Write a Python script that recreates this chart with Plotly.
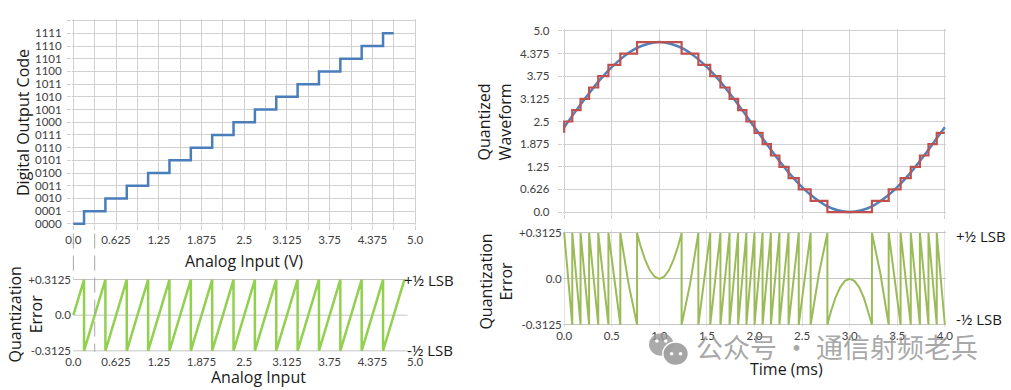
import plotly.graph_objects as go

W, H = 1011, 390

# ---------------- DATA ----------------
# Top-left: ADC transfer function (input volts at each code transition, output code)
adc_input_v = [0.0, 0.15625, 0.46875, 0.78125, 1.09375, 1.40625, 1.71875, 2.03125,
               2.34375, 2.65625, 2.96875, 3.28125, 3.59375, 3.90625, 4.21875, 4.53125, 4.6875]
adc_code = [0, 1, 2, 3, 4, 5, 6, 7, 8, 9, 10, 11, 12, 13, 14, 15, 15]
code_tick_vals = [0, 1, 2, 3, 4, 5, 6, 7, 8, 9, 10, 11, 12, 13, 14, 15, 16]
code_tick_text = ["0000", "0001", "0010", "0011", "0100", "0101", "0110", "0111",
                  "1000", "1001", "1010", "1011", "1100", "1101", "1110", "1111", ""]
volt_tick_vals = [0.0, 0.625, 1.25, 1.875, 2.5, 3.125, 3.75, 4.375, 5.0]
volt_tick_text = ["0.0", "0.625", "1.25", "1.875", "2.5", "3.125", "3.75", "4.375", "5.0"]

# Bottom-left: quantization error vs analog input (sawtooth vertices)
saw_input_v = [0.0,
               0.15625, 0.15625, 0.46875, 0.46875, 0.78125, 0.78125, 1.09375, 1.09375,
               1.40625, 1.40625, 1.71875, 1.71875, 2.03125, 2.03125, 2.34375, 2.34375,
               2.65625, 2.65625, 2.96875, 2.96875, 3.28125, 3.28125, 3.59375, 3.59375,
               3.90625, 3.90625, 4.21875, 4.21875, 4.53125, 4.53125,
               4.84375]
saw_error = [0.0,
             0.3125, -0.3125, 0.3125, -0.3125, 0.3125, -0.3125, 0.3125, -0.3125,
             0.3125, -0.3125, 0.3125, -0.3125, 0.3125, -0.3125, 0.3125, -0.3125,
             0.3125, -0.3125, 0.3125, -0.3125, 0.3125, -0.3125, 0.3125, -0.3125,
             0.3125, -0.3125, 0.3125, -0.3125, 0.3125, -0.3125,
             0.3125]
err_tick_vals = [-0.3125, 0.0, 0.3125]
err_tick_text = ["-0.3125", "0.0", "+0.3125"]

# Top-right: analog sine (sampled read-offs) and its quantized staircase
sine_time = [0.0, 0.125, 0.25, 0.375, 0.5, 0.625, 0.75, 0.875, 1.0, 1.125, 1.25, 1.375,
             1.5, 1.625, 1.75, 1.875, 2.0, 2.125, 2.25, 2.375, 2.5, 2.625, 2.75, 2.875,
             3.0, 3.125, 3.25, 3.375, 3.5, 3.625, 3.75, 3.875, 4.0]
sine_value = [2.34, 2.80, 3.24, 3.65, 4.00, 4.29, 4.51, 4.64, 4.69, 4.64, 4.51, 4.29,
              4.00, 3.65, 3.24, 2.80, 2.34, 1.89, 1.45, 1.04, 0.69, 0.40, 0.18, 0.05,
              0.00, 0.05, 0.18, 0.40, 0.69, 1.04, 1.45, 1.89, 2.34]
quant_time = [0.0, 0.0, 0.085, 0.172, 0.262, 0.358, 0.465, 0.590, 0.766, 1.234, 1.410,
              1.535, 1.642, 1.738, 1.828, 1.915, 2.0, 2.085, 2.172, 2.262, 2.358, 2.465,
              2.590, 2.766, 3.234, 3.410, 3.535, 3.642, 3.738, 3.828, 3.915, 4.0]
quant_level = [2.1875, 2.5, 2.8125, 3.125, 3.4375, 3.75, 4.0625, 4.375, 4.6875, 4.375,
               4.0625, 3.75, 3.4375, 3.125, 2.8125, 2.5, 2.1875, 1.875, 1.5625, 1.25,
               0.9375, 0.625, 0.3125, 0.0, 0.3125, 0.625, 0.9375, 1.25, 1.5625, 1.875,
               2.1875, 2.1875]
wave_tick_vals = [0.0, 0.625, 1.25, 1.875, 2.5, 3.125, 3.75, 4.375, 5.0]
wave_tick_text = ["0.0", "0.626", "1.25", "1.875", "2.5", "3.125", "3.75", "4.375", "5.0"]
time_tick_vals = [0.0, 0.5, 1.0, 1.5, 2.0, 2.5, 3.0, 3.5, 4.0]
time_tick_text = ["0.0", "0.5", "1.0", "1.5", "2.0", "2.5", "3.0", "3.5", "4.0"]

# Bottom-right: quantization error vs time (vertices)
err_time = [0.0,
            0.085, 0.085, 0.172, 0.172, 0.262, 0.262, 0.358, 0.358,
            0.465, 0.465, 0.590, 0.590, 0.678, 0.766, 0.766,
            0.80, 0.85, 0.90, 0.95, 1.00, 1.05, 1.10, 1.15, 1.20,
            1.234, 1.234, 1.322, 1.410, 1.410, 1.535, 1.535, 1.642, 1.642,
            1.738, 1.738, 1.828, 1.828, 1.915, 1.915, 2.0, 2.0,
            2.085, 2.085, 2.172, 2.172, 2.262, 2.262, 2.358, 2.358,
            2.465, 2.465, 2.590, 2.590, 2.678, 2.766, 2.766,
            2.80, 2.85, 2.90, 2.95, 3.00, 3.05, 3.10, 3.15, 3.20,
            3.234, 3.234, 3.322, 3.410, 3.410, 3.535, 3.535, 3.642, 3.642,
            3.738, 3.738, 3.828, 3.828, 3.915, 3.915,
            4.0]
err_value = [0.3125,
             -0.3125, 0.3125, -0.3125, 0.3125, -0.3125, 0.3125, -0.3125, 0.3125,
             -0.3125, 0.3125, -0.3125, 0.3125, -0.038, -0.3125, 0.3125,
             0.229, 0.130, 0.058, 0.014, 0.0, 0.014, 0.058, 0.130, 0.229,
             0.3125, -0.3125, -0.038, 0.3125, -0.3125, 0.3125, -0.3125, 0.3125, -0.3125,
             0.3125, -0.3125, 0.3125, -0.3125, 0.3125, -0.3125, 0.3125, -0.3125,
             0.3125, -0.3125, 0.3125, -0.3125, 0.3125, -0.3125, 0.3125, -0.3125,
             0.3125, -0.3125, 0.3125, -0.3125, 0.038, 0.3125, -0.3125,
             -0.229, -0.130, -0.058, -0.014, 0.0, -0.014, -0.058, -0.130, -0.229,
             -0.3125, 0.3125, 0.038, -0.3125, 0.3125, -0.3125, 0.3125, -0.3125, 0.3125,
             -0.3125, 0.3125, -0.3125, 0.3125, -0.3125, 0.3125,
             -0.3125]

# ---------------- STYLE ----------------
TICK_FONT = dict(family="Lato", size=11.5, color="#404040")
TITLE_FONT = dict(family="Open Sans", size=16, color="#1a1a1a")
GRID = "#d0d0d0"


def px(x):
    return x / W


def py(y):
    return 1 - y / H


fig = go.Figure()

fig.add_trace(go.Scatter(x=adc_input_v, y=adc_code, mode="lines", line_shape="hv",
                         line=dict(color="#4A7EBB", width=2.5), xaxis="x", yaxis="y"))
fig.add_trace(go.Scatter(x=saw_input_v, y=saw_error, mode="lines",
                         line=dict(color="#92D050", width=2.5), xaxis="x2", yaxis="y2"))
fig.add_trace(go.Scatter(x=sine_time, y=sine_value, mode="lines", line_shape="spline",
                         line=dict(color="#4F81BD", width=2.5, smoothing=1.0),
                         xaxis="x3", yaxis="y3"))
fig.add_trace(go.Scatter(x=quant_time, y=quant_level, mode="lines", line_shape="hv",
                         line=dict(color="#C0504D", width=2.2), xaxis="x3", yaxis="y3"))
fig.add_trace(go.Scatter(x=err_time, y=err_value, mode="lines",
                         line=dict(color="#9BBB59", width=2), xaxis="x4", yaxis="y4"))

# Domains from pixel geometry
tl_x = [px(65.91), px(415.19)]
tl_y = [py(225.56), py(14.44)]
bl_y = [py(357.21), py(277.79)]
r_x = [px(563.55), px(952.45)]
tr_y = [py(214.23), py(24.27)]
br_y = [py(329.93), py(230.67)]

common = dict(showline=False, zeroline=False, tickfont=TICK_FONT, fixedrange=True)

fig.update_layout(
    width=W, height=H, autosize=False,
    margin=dict(l=0, r=0, t=0, b=0),
    paper_bgcolor="white", plot_bgcolor="white",
    showlegend=False, hovermode=False,
    xaxis=dict(domain=tl_x, anchor="y", range=[-0.02, 5.02],
               tickvals=volt_tick_vals, ticktext=volt_tick_text,
               showgrid=True, gridcolor=GRID, gridwidth=1,
               ticks="outside", ticklen=4, tickcolor=GRID,
               minor=dict(tick0=0, dtick=0.3125, showgrid=True, gridcolor=GRID,
                          ticks="outside", ticklen=4, tickcolor=GRID),
               **common),
    yaxis=dict(domain=tl_y, anchor="x", range=[-0.12, 16.12],
               tickvals=code_tick_vals, ticktext=code_tick_text,
               showgrid=True, gridcolor=GRID, gridwidth=1,
               ticks="outside", ticklen=4, tickcolor=GRID, ticklabelstandoff=3,
               **common),
    xaxis2=dict(domain=tl_x, anchor="y2", range=[-0.02, 5.02],
                tickvals=volt_tick_vals, ticktext=volt_tick_text,
                showgrid=False, **common),
    yaxis2=dict(domain=bl_y, anchor="x2", range=[-0.34, 0.34],
                tickvals=err_tick_vals, ticktext=err_tick_text,
                showgrid=False, **common),
    xaxis3=dict(domain=r_x, anchor="y3", range=[-0.015, 4.015],
                tickvals=time_tick_vals, showticklabels=False,
                showgrid=True, gridcolor=GRID, gridwidth=1,
                ticks="outside", ticklen=4, tickcolor=GRID, **common),
    yaxis3=dict(domain=tr_y, anchor="x3", range=[-0.06, 5.06],
                tickvals=wave_tick_vals, ticktext=wave_tick_text,
                showgrid=True, gridcolor=GRID, gridwidth=1,
                ticks="outside", ticklen=4, tickcolor=GRID, ticklabelstandoff=6,
                **common),
    xaxis4=dict(domain=r_x, anchor="y4", range=[-0.015, 4.015],
                tickvals=time_tick_vals, ticktext=time_tick_text,
                showgrid=True, gridcolor="#e3e3e3", gridwidth=1, **common),
    yaxis4=dict(domain=br_y, anchor="x4", range=[-0.33, 0.33],
                tickvals=err_tick_vals, ticktext=err_tick_text,
                showgrid=True, gridcolor="#c4c4c4", gridwidth=1, **common),
)

shapes = []
# Bottom-left horizontal grid lines (shorter than the axis span)
for v in err_tick_vals:
    shapes.append(dict(type="line", xref="x2", yref="y2", x0=0, x1=4.89, y0=v, y1=v,
                       line=dict(color="#c4c4c4", width=1), layer="below"))
# Dashed guide lines at 0 and 1 LSB
shapes.append(dict(type="line", xref="x", yref="paper", x0=0.0, x1=0.0,
                   y0=py(234), y1=py(280), line=dict(color="#a6a6a6", width=1, dash="15px,7px")))
shapes.append(dict(type="line", xref="x", yref="paper", x0=0.3125, x1=0.3125,
                   y0=py(234), y1=py(355), line=dict(color="#a6a6a6", width=1, dash="15px,7px")))
# Watermark icon (two chat bubbles)
wm = "rgba(150,150,150,0.8)"
shapes.append(dict(type="circle", xref="paper", yref="paper",
                   x0=px(651), x1=px(676), y0=py(359), y1=py(336),
                   fillcolor=wm, line=dict(width=0)))
shapes.append(dict(type="circle", xref="paper", yref="paper",
                   x0=px(665), x1=px(691), y0=py(369), y1=py(345),
                   fillcolor="rgba(160,160,160,0.95)", line=dict(color="white", width=1.5)))
for cx, cy in [(659, 344), (668, 344), (674, 357), (683, 357)]:
    shapes.append(dict(type="circle", xref="paper", yref="paper",
                       x0=px(cx - 1.8), x1=px(cx + 1.8), y0=py(cy + 1.8), y1=py(cy - 1.8),
                       fillcolor="white", line=dict(width=0)))
fig.update_layout(shapes=shapes)

ann = []


def add_text(text, x, y, size=16, angle=0, xanchor="center", font=None, color="#1a1a1a"):
    f = dict(TITLE_FONT)
    f["size"] = size
    f["color"] = color
    if font:
        f["family"] = font
    ann.append(dict(text=text, x=px(x), y=py(y), xref="paper", yref="paper",
                    showarrow=False, textangle=angle, xanchor=xanchor, yanchor="middle",
                    font=f))


add_text("Digital Output Code", 16, 120, angle=-90)
add_text("Analog Input (V)", 240, 262)
add_text("Quantization<br>Error", 19, 317, angle=-90)
add_text("Analog Input", 255, 381)
add_text("+½ LSB", 401, 281, size=15, xanchor="left")
add_text("-½ LSB", 404, 353, size=15, xanchor="left")
add_text("Quantized<br>Waveform", 494, 120, angle=-90)
add_text("Quantization<br>Error", 496, 283, angle=-90)
add_text("+½ LSB", 960, 236, size=15, xanchor="left")
add_text("-½ LSB", 960, 321, size=15, xanchor="left")
add_text("Time (ms)", 790, 373)
add_text("公众号 · 通信射频老兵", 697, 350, size=27, xanchor="left",
         font="Noto Sans CJK SC", color="rgba(140,140,140,0.75)")
fig.update_layout(annotations=ann)

fig.write_html("out.html",
               config={"displayModeBar": False, "staticPlot": True},
               post_script="document.body.style.margin='0px';document.body.style.padding='0px';")
